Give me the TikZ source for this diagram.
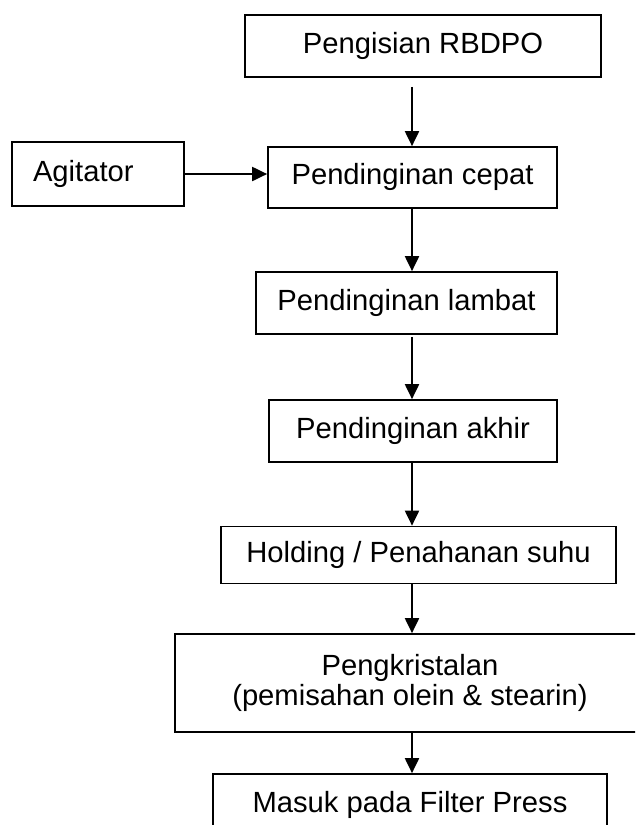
\documentclass[tikz,border=0pt]{standalone}
\usepackage{fontspec}
\setmainfont{Liberation Sans}
\usetikzlibrary{arrows.meta}
\begin{document}
\begin{tikzpicture}[x=1pt,y=-1pt,
  box/.style={draw=black, line width=1.7pt, rectangle, inner sep=0pt,
    font=\fontsize{29.2}{30}\selectfont, text height=21pt, text depth=6.5pt},
  flow/.style={draw=black, line width=2pt, -{Triangle[length=15pt,width=14pt]}}]
  \useasboundingbox (0,0) rectangle (635,825);
  \clip (0,0) rectangle (635,825);

  % process boxes (centre, width, height)
  \node[box, minimum width=356pt, minimum height=62pt] (isi) at (423,46) {Pengisian RBDPO};
  \node[box, minimum height=64pt, text width=130pt, inner xsep=21pt, align=left] (agit) at (98,174) {Agitator};
  \node[box, minimum width=289pt, minimum height=61pt] (cepat) at (412.5,177.5) {Pendinginan cepat};
  \node[box, minimum width=301pt, minimum height=62pt] (lambat) at (406.5,303) {Pendinginan lambat};
  \node[box, minimum width=288pt, minimum height=62pt] (akhir) at (413,431) {Pendinginan akhir};
  \node[box, minimum width=395pt, minimum height=57pt] (hold) at (418.5,555) {Holding / Penahanan suhu};
  \node[box, minimum width=470pt, minimum height=98pt, align=center, text height=, text depth=] (kristal) at (410,683)
    {Pengkristalan\\(pemisahan olein \& stearin)};
  \node[box, minimum width=394pt, minimum height=62pt] (filter) at (410,805) {Masuk pada Filter Press};

  % main flow line
  \coordinate (ax) at (412,0);
  \draw[flow, shorten <=9pt] (isi.south -| ax) -- (cepat.north -| ax);
  \draw[flow] (cepat.south -| ax) -- (lambat.north -| ax);
  \draw[flow, shorten <=2pt] (lambat.south -| ax) -- (akhir.north -| ax);
  \draw[flow] (akhir.south -| ax) -- (hold.north -| ax);
  \draw[flow] (hold.south -| ax) -- (kristal.north -| ax);
  \draw[flow] (kristal.south -| ax) -- (filter.north -| ax);

  % side input
  \draw[flow] (agit.east) -- (agit.east -| cepat.west);
\end{tikzpicture}
\end{document}
